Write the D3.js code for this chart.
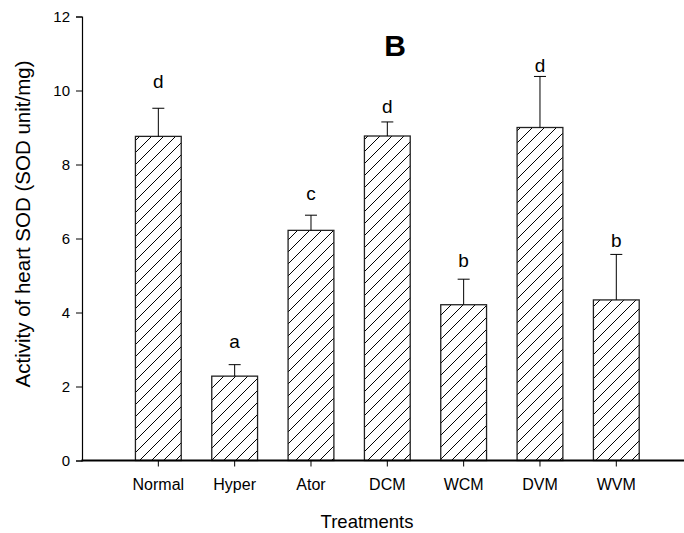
<!DOCTYPE html>
<html>
<head>
<meta charset="utf-8">
<script src="https://cdn.jsdelivr.net/npm/d3@7"></script>
<style>
  body { margin: 0; background: #fff; }
  text { font-family: Arial, "Liberation Sans", sans-serif; fill: #000; }
</style>
</head>
<body>
<div id="chart"></div>
<script>
// data
const treatments = ["Normal", "Hyper", "Ator", "DCM", "WCM", "DVM", "WVM"];
const sodMean = [8.76, 2.28, 6.22, 8.77, 4.21, 9.00, 4.34];
const sodErr = [0.76, 0.31, 0.41, 0.38, 0.69, 1.38, 1.23];
const letters = ["d", "a", "c", "d", "b", "d", "b"];
const letterAt = [10.06, 3.03, 7.04, 9.39, 5.22, 10.51, 5.76];
const yTicks = [0, 2, 4, 6, 8, 10, 12];

const W = 684, H = 533;
const x0 = 82, yBase = 460.5, yTop = 16.5;
const step = 76.33;

const svg = d3.select("#chart").append("svg")
    .attr("width", W)
    .attr("height", H);

// hatch pattern
const defs = svg.append("defs");
const pat = defs.append("pattern")
    .attr("id", "hatch")
    .attr("patternUnits", "userSpaceOnUse")
    .attr("width", 12)
    .attr("height", 12);
pat.append("rect").attr("width", 12).attr("height", 12).attr("fill", "#fff");
pat.append("path")
    .attr("d", "M-3,3 L3,-3 M0,12 L12,0 M9,15 L15,9")
    .attr("stroke", "#000")
    .attr("stroke-width", 1);

const x = d3.scaleBand()
    .domain(treatments)
    .range([x0 + step * 0.5, x0 + step * 7.5])
    .paddingInner(0.4)
    .paddingOuter(0.2);

const y = d3.scaleLinear()
    .domain([0, 12])
    .range([yBase, yTop]);

// bars
svg.selectAll(".bar")
    .data(treatments)
    .enter().append("rect")
    .attr("class", "bar")
    .attr("x", d => x(d))
    .attr("y", (d, i) => y(sodMean[i]))
    .attr("width", x.bandwidth())
    .attr("height", (d, i) => yBase - y(sodMean[i]))
    .attr("fill", "url(#hatch)")
    .attr("stroke", "#222")
    .attr("stroke-width", 1.3);

// error bars (upper only)
const eb = svg.selectAll(".err")
    .data(treatments)
    .enter().append("g")
    .attr("class", "err")
    .attr("transform", d => `translate(${x(d) + x.bandwidth() / 2},0)`);
eb.append("line")
    .attr("y1", (d, i) => y(sodMean[i]))
    .attr("y2", (d, i) => y(sodMean[i] + sodErr[i]))
    .attr("stroke", "#000");
eb.append("line")
    .attr("x1", -6).attr("x2", 6)
    .attr("y1", (d, i) => y(sodMean[i] + sodErr[i]))
    .attr("y2", (d, i) => y(sodMean[i] + sodErr[i]))
    .attr("stroke", "#000");

// significance letters
svg.selectAll(".letter")
    .data(treatments)
    .enter().append("text")
    .attr("class", "letter")
    .attr("x", d => x(d) + x.bandwidth() / 2)
    .attr("y", (d, i) => y(letterAt[i]))
    .attr("text-anchor", "middle")
    .style("font-size", "19px")
    .text((d, i) => letters[i]);

// y axis
const yAxis = svg.append("g")
    .attr("transform", `translate(${x0},0)`)
    .call(d3.axisLeft(y).tickValues(yTicks).tickSize(6).tickPadding(6));
yAxis.select(".domain").attr("stroke", "#000").attr("stroke-width", 1.2);
yAxis.selectAll(".tick line").attr("stroke", "#000");
yAxis.selectAll("text").style("font-size", "15px").attr("font-family", null);

// x axis
const xAxis = svg.append("g")
    .attr("transform", `translate(0,${yBase})`)
    .call(d3.axisBottom(x).tickSize(6).tickPadding(12.5));
xAxis.select(".domain").remove();
xAxis.selectAll(".tick line").attr("stroke", "#000");
xAxis.selectAll("text").style("font-size", "16px").attr("font-family", null);
svg.append("line")
    .attr("x1", x0 - 0.6).attr("x2", W)
    .attr("y1", yBase).attr("y2", yBase)
    .attr("stroke", "#000")
    .attr("stroke-width", 2);

// titles
svg.append("text")
    .attr("x", 367)
    .attr("y", 528)
    .attr("text-anchor", "middle")
    .style("font-size", "18.5px")
    .text("Treatments");

svg.append("text")
    .attr("transform", "translate(30,224) rotate(-90)")
    .attr("text-anchor", "middle")
    .style("font-size", "20.5px")
    .text("Activity of heart SOD (SOD unit/mg)");

svg.append("text")
    .attr("x", 395)
    .attr("y", 56)
    .attr("text-anchor", "middle")
    .style("font-size", "30px")
    .style("font-weight", "bold")
    .text("B");
</script>
</body>
</html>
